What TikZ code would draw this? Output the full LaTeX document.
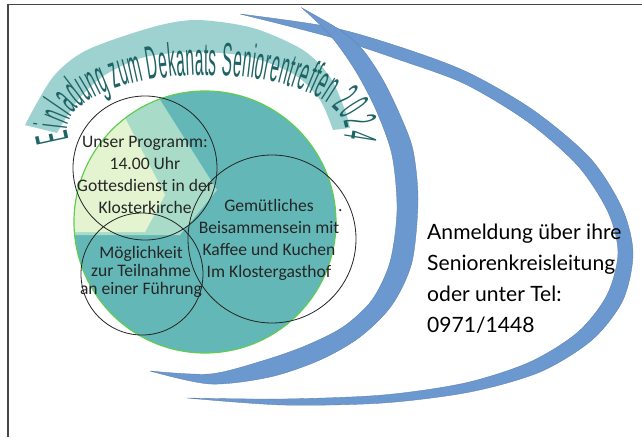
\documentclass[tikz,border=0pt]{standalone}
\usepackage{fontspec}
\setmainfont{Carlito}
\newfontfamily\arcfont[FakeStretch=0.33]{Liberation Sans}
\newfontfamily\handfont{Lato}
\usetikzlibrary{decorations.text}
\definecolor{bandteal}{RGB}{158,210,208}
\definecolor{titleteal}{RGB}{30,100,100}
\definecolor{venteal}{RGB}{99,184,183}
\definecolor{lightteal}{RGB}{168,220,200}
\definecolor{paleyellow}{RGB}{228,244,208}
\definecolor{rimgreen}{RGB}{95,205,80}
\definecolor{swooshblue}{RGB}{108,152,208}
\definecolor{framegray}{RGB}{70,70,70}

\begin{document}
\begin{tikzpicture}[x=0.03cm, y=0.03cm,
    swoosh/.style={fill=swooshblue, draw=swooshblue!85!black, line width=0.3pt},
    ring/.style={draw=black!85, line width=0.7pt},
    info/.style={align=center, text=black!85, inner sep=0pt,
        font=\fontsize{15}{18.8}\selectfont}]
    \useasboundingbox (0,0) rectangle (642,437);
    \draw[framegray, line width=1.2pt] (8,0) -- (8,432.5) -- (642,432.5);

    % title band and arched title
    \fill[bandteal] plot[smooth] coordinates {(25,312) (53,360) (87,387) (153,410) (197,417)
        (253,409) (303,387) (330,360) (345,327) (350,309)}
        -- plot[smooth] coordinates {(333,307) (320,337) (295,362) (250,380) (197,385)
        (145,380) (105,362) (78,337) (57,304)} -- cycle;
    \path[decorate, decoration={text along path, text align={fit to path},
        text={|\arcfont\fontsize{40}{40}\selectfont\color{titleteal}|Einladung zum Dekanats Seniorentreffen 2024}}]
        (69.1,297.4) arc[start angle=190, end angle=-8, x radius=139, y radius=55];

    % blue swooshes
    \fill[swoosh] plot[smooth] coordinates {(240,423) (330,410) (400,390) (467,365) (533,327)
        (590,279) (622,229) (633,184) (623,137) (592,97) (540,65) (470,45) (383,34) (283,32) (187,39)}
        -- plot[smooth] coordinates {(187,39) (283,38) (383,42) (465,54) (530,75) (578,105)
        (607,142) (618,184) (608,225) (578,271) (528,315) (465,353) (400,377) (330,400) (240,423)} -- cycle;
    \fill[swoosh] plot[smooth] coordinates {(302,429) (340,407) (363,387) (383,357) (400,322)
        (413,287) (418,237) (412,175) (392,132) (360,100) (320,77) (270,60) (210,53) (150,66)}
        -- plot[smooth] coordinates {(150,66) (210,63) (262,76) (305,91) (343,110) (372,137)
        (390,175) (397,227) (392,282) (376,327) (355,367) (330,402) (302,429)} -- cycle;

    % venn disc
    \coordinate (disc) at (205,215);
    \fill[venteal] (disc) circle[radius=131];
    \begin{scope}
        \clip (disc) circle[radius=131];
        \fill[lightteal] (135,377) -- (217,247) -- (180,202) -- (40,202) -- (40,377) -- cycle;
        \fill[paleyellow] (95,377) -- (165,242) -- (145,205) -- (40,205) -- (40,377) -- cycle;
    \end{scope}
    \draw[rimgreen, line width=1pt] (disc) circle[radius=131];
    \foreach \cx/\cy/\r in {145/269/72, 142/163/61, 272/198/84}
        \draw[ring] (\cx,\cy) circle[radius=\r];

    \node[info] (programm) at (145,262) {Unser Programm:\\14.00 Uhr\\Gottesdienst in der\\Klosterkirche};
    \node[info, font=\fontsize{15}{15.4}\selectfont] (fuehrung) at (141,165)
        {Möglichkeit\\zur Teilnahme\\an einer Führung};
    \node[info] (kaffee) at (269,197.5)
        {\hphantom{\hspace{1.4em}.}Gemütliches\hspace{1.4em}.\\Beisammensein mit\\Kaffee und Kuchen\\Im Klostergasthof};
    \node[anchor=west, align=left, inner sep=0pt, font=\handfont\fontsize{18}{26.5}\selectfont]
        (anmeldung) at (427,158.5) {Anmeldung über ihre\\Seniorenkreisleitung\\oder unter Tel:\\0971/1448};
\end{tikzpicture}
\end{document}
